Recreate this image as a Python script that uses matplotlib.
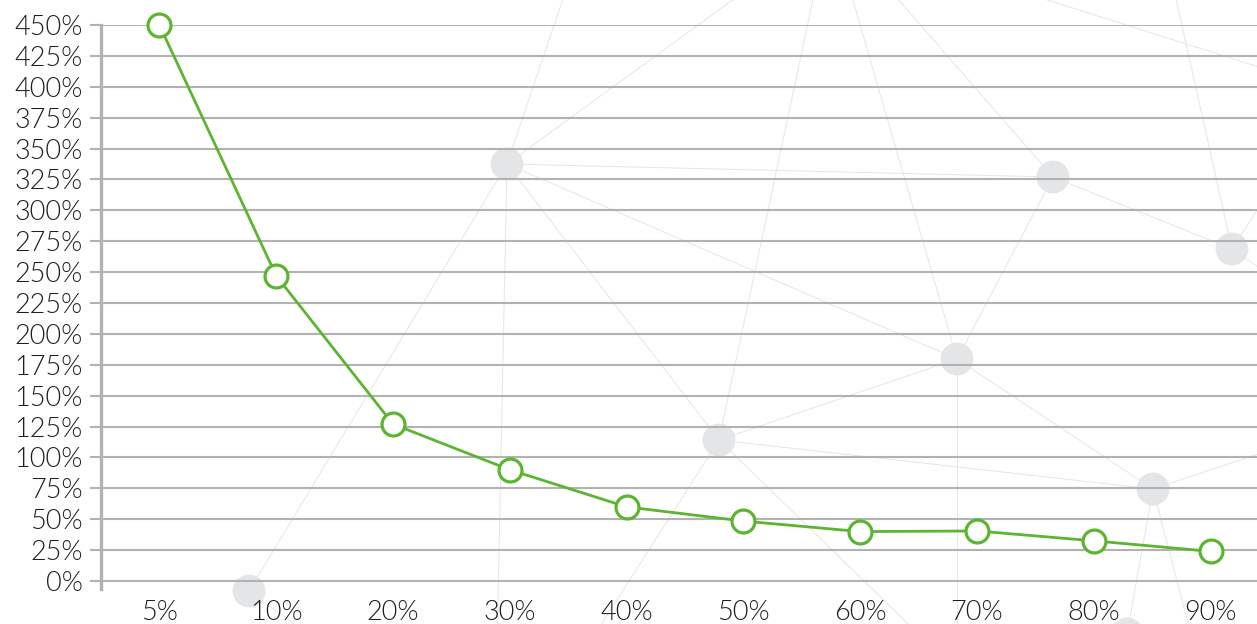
import matplotlib
matplotlib.use("Agg")
from matplotlib import pyplot as plt

# chart data
categories = ["5%", "10%", "20%", "30%", "40%", "50%", "60%", "70%", "80%", "90%"]
values = [450, 247, 127, 90, 60, 48.5, 40, 40.5, 32.5, 24]
y_ticks = list(range(0, 451, 25))

# decorative background network (pixel space of the picture)
node_x = [249, 507, 719, 957, 1053, 1153, 1232, 1127]
node_y = [591, 164, 440, 359, 177, 489, 249, 634]
edge_from = [0, 0, 1, 1, 1, 1, 1, 1, 2, 2, 2, 2, 2, 3, 3, 3, 3, 4, 4, 5, 5, 5, 6, 6, 6]
edge_to_x = [507, 330, 566, 760, 1053, 957, 719, 497, 957, 1153, 815, 585, 935, 1053, 850, 957, 1153, 890, 1232, 1270, 1127, 1195, 1174, 1270, 1270]
edge_to_y = [164, 650, -10, -20, 177, 359, 440, 650, 359, 489, -10, 650, 650, 177, -10, 650, 489, -10, 249, 450, 634, 650, -10, 190, 275]
extra_x = [1000, 1300]
extra_y = [-15, 80]

GREEN = "#5cb531"
GRID = "#b2b2b2"
TEXT = "#1e1e1e"

plt.rcParams["font.family"] = ["Lato", "DejaVu Sans"]

fig = plt.figure(figsize=(12.57, 6.24), dpi=100)

# ---------------- background network ----------------
bg = fig.add_axes([0, 0, 1, 1], zorder=0)
bg.set_xlim(0, 1257)
bg.set_ylim(624, 0)
bg.axis("off")
for i, j in enumerate(edge_from):
    bg.plot([node_x[j], edge_to_x[i]], [node_y[j], edge_to_y[i]],
            color="#e6e6e6", lw=0.7, zorder=1)
bg.plot(extra_x, extra_y, color="#e6e6e6", lw=0.7, zorder=1)
bg.scatter(node_x, node_y, s=560, color="#e4e5e7", edgecolor="none", zorder=2)

# ---------------- main chart ----------------
W, H = 1257, 624
ax = fig.add_axes([101 / W, (H - 589) / H, 1168 / W, (589 - 25) / H], zorder=1)
ax.patch.set_alpha(0)

x = list(range(len(categories)))
ax.plot(x, values, color=GREEN, lw=2.0, marker="o", markersize=16.5,
        markerfacecolor="white", markeredgecolor=GREEN, markeredgewidth=2.3,
        clip_on=False, zorder=5)

ax.set_xlim(-0.5, len(categories) - 0.5)
ax.set_ylim(-450 * 8 / 556, 450)
ax.set_xticks(x)
ax.set_xticklabels(categories)
ax.set_yticks(y_ticks)
ax.set_yticklabels([f"{v}%" for v in y_ticks])

ax.grid(axis="y", color=GRID, lw=1.5)
ax.set_axisbelow(True)
for side in ["top", "right", "bottom"]:
    ax.spines[side].set_visible(False)
ax.spines["left"].set_color(GRID)
ax.spines["left"].set_linewidth(2.4)

ax.tick_params(axis="y", length=8, width=1.5, color=GRID, pad=5,
               labelsize=19.5, labelcolor=TEXT)
ax.tick_params(axis="x", length=0, pad=8, labelsize=19.5, labelcolor=TEXT)
for lbl in ax.get_xticklabels() + ax.get_yticklabels():
    lbl.set_fontweight(300)

fig.savefig("out.png", dpi=100)
